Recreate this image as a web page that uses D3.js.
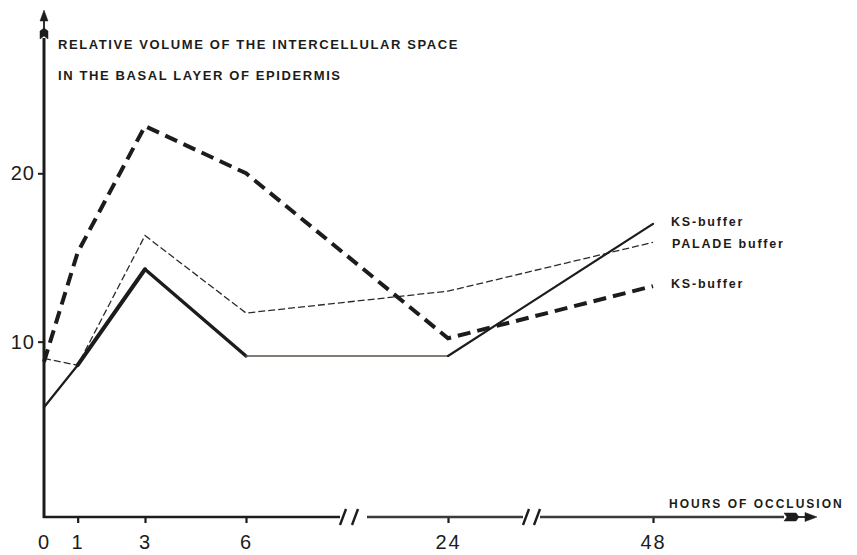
<!DOCTYPE html>
<html>
<head>
<meta charset="utf-8">
<script src="https://cdn.jsdelivr.net/npm/d3@7"></script>
<style>
  html, body { margin: 0; padding: 0; background: #fff; }
  svg { display: block; }
  text { font-family: "Liberation Sans", Arial, Helvetica, sans-serif; fill: #1c1c1c; }
</style>
</head>
<body>
<svg id="chart" width="857" height="555"></svg>
<script>
// ---- data ----
const hours = [0, 1, 3, 6, 24, 48];
const ksDashed = [8.8, 15.3, 22.8, 20.0, 10.2, 13.3];   // KS-buffer (thick dashed)
const ksSolid  = [6.1, 8.6, 14.3, 9.15, 9.15, 17.0];    // KS-buffer (solid)
const palade   = [9.0, 8.6, 16.3, 11.7, 13.0, 15.9];    // PALADE buffer (thin dashed)
const xTickValues = [0, 1, 3, 6, 24, 48];
const yTickValues = [10, 20];
const titleLines = ["RELATIVE VOLUME OF THE INTERCELLULAR SPACE", "IN THE BASAL LAYER OF EPIDERMIS"];
const xTitle = "HOURS OF OCCLUSION";
const seriesNames = ["KS-buffer", "PALADE buffer", "KS-buffer"];

// ---- layout ----
const svg = d3.select("#chart");
const axisY = 517;       // pixel row of the x axis
const axisX = 44;        // pixel column of the y axis
const ink = "#1c1c1c";

const x = d3.scaleLinear().domain([0, 6, 24, 48]).range([44, 246, 448, 653]);
const y = d3.scaleLinear().domain([0, 20]).range([510, 173.3]);

// ---- x axis (broken) ----
const xAxisG = svg.append("g").attr("transform", `translate(0,${axisY})`)
  .call(d3.axisBottom(x).tickValues(xTickValues).tickSizeInner(6).tickSizeOuter(0).tickPadding(12).tickFormat(d3.format("d")));
xAxisG.select(".domain").remove();
xAxisG.selectAll(".tick line").attr("stroke", ink).attr("stroke-width", 2.2)
  .filter(d => d === 0).remove();
xAxisG.selectAll(".tick text").attr("font-size", 20).attr("fill", ink)
  .attr("letter-spacing", 2).attr("font-family", "Liberation Sans, Arial, sans-serif");

// domain segments with breaks between 6..24 and 24..48
const segs = [[axisX - 1, 340, "#1c1c1c"], [367, 523, "#3a3a3a"], [540, 784, "#3a3a3a"]];
svg.append("g").selectAll("line").data(segs).join("line")
  .attr("x1", d => d[0]).attr("x2", d => d[1]).attr("y1", axisY).attr("y2", axisY)
  .attr("stroke", d => d[2]).attr("stroke-width", 2.6);

// break slashes
const slashes = [343, 355, 526, 537];
svg.append("g").selectAll("line").data(slashes).join("line")
  .attr("x1", d => d - 3).attr("x2", d => d + 3).attr("y1", axisY + 8).attr("y2", axisY - 8)
  .attr("stroke", ink).attr("stroke-width", 2.4);

// x axis arrow (feathered tail + head)
const ax = svg.append("g").attr("fill", ink).attr("stroke", ink);
ax.append("path").attr("d", `M784,${axisY-4} L796,${axisY-4} L799,${axisY} L796,${axisY+4} L784,${axisY+4} L787,${axisY} Z`).attr("stroke-width", 0.5);
ax.append("line").attr("x1", 798).attr("x2", 808).attr("y1", axisY).attr("y2", axisY).attr("stroke-width", 1.8);
ax.append("path").attr("d", `M805,${axisY-4.5} L817,${axisY} L805,${axisY+4.5} Z`).attr("stroke-width", 0.5);

// ---- y axis ----
const yAxisG = svg.append("g").attr("transform", `translate(${axisX},0)`)
  .call(d3.axisLeft(y).tickValues(yTickValues).tickSizeInner(6).tickSizeOuter(0).tickPadding(3));
yAxisG.select(".domain").remove();
yAxisG.selectAll(".tick line").attr("stroke", ink).attr("stroke-width", 2);
yAxisG.selectAll(".tick text").attr("font-size", 20).attr("fill", ink)
  .attr("letter-spacing", 1).attr("font-family", "Liberation Sans, Arial, sans-serif");

svg.append("line").attr("x1", axisX).attr("x2", axisX).attr("y1", axisY + 1).attr("y2", 38)
  .attr("stroke", ink).attr("stroke-width", 3);
const ay = svg.append("g").attr("fill", ink).attr("stroke", ink);
ay.append("path").attr("d", `M${axisX-4},39 L${axisX-4},31 L${axisX},28 L${axisX+4},31 L${axisX+4},39 L${axisX},36 Z`).attr("stroke-width", 0.5);
ay.append("line").attr("x1", axisX).attr("x2", axisX).attr("y1", 30).attr("y2", 18).attr("stroke-width", 1.8);
ay.append("path").attr("d", `M${axisX-4},21 L${axisX},10 L${axisX+4},21 Z`).attr("stroke-width", 0.5);

// ---- titles ----
svg.append("g").selectAll("text").data(titleLines).join("text")
  .attr("x", 58).attr("y", (d, i) => 49 + i * 31)
  .attr("font-size", 13).attr("font-weight", "bold").attr("letter-spacing", 1.6)
  .text(d => d);

svg.append("text").attr("x", 669).attr("y", 508)
  .attr("font-size", 12).attr("font-weight", "bold").attr("letter-spacing", 2)
  .text(xTitle);

// ---- series ----
const pts = vals => hours.map((h, i) => [x(h), y(vals[i])]);
const line = d3.line();

// thin dashed PALADE
svg.append("path").attr("d", line(pts(palade))).attr("fill", "none")
  .attr("stroke", "#2a2a2a").attr("stroke-width", 1.3).attr("stroke-dasharray", "7,3")
  .attr("stroke-linejoin", "miter");

// solid KS: drawn per segment with varying weight
const solidPts = pts(ksSolid);
const solidStyle = [[2.2, ink], [4, ink], [3.4, ink], [1.6, "#5b524a"], [2.2, ink]];
svg.append("g").selectAll("line").data(d3.pairs(solidPts)).join("line")
  .attr("x1", d => d[0][0]).attr("y1", d => d[0][1])
  .attr("x2", d => d[1][0]).attr("y2", d => d[1][1])
  .attr("stroke", (d, i) => solidStyle[i][1]).attr("stroke-width", (d, i) => solidStyle[i][0])
  .attr("stroke-linecap", "round");

// thick dashed KS
svg.append("path").attr("d", line(pts(ksDashed))).attr("fill", "none")
  .attr("stroke", ink).attr("stroke-width", 4).attr("stroke-dasharray", "13,7")
  .attr("stroke-linejoin", "miter");

// ---- series labels ----
const lastVals = [ksSolid[5], palade[5], ksDashed[5]];
const labelNudge = [2, 6, 2];
svg.append("g").selectAll("text").data(seriesNames).join("text")
  .attr("x", (d, i) => x(48) + 18 + (i === 1 ? 1 : 0))
  .attr("y", (d, i) => y(lastVals[i]) + labelNudge[i])
  .attr("font-size", 12.5).attr("font-weight", "bold").attr("letter-spacing", 1.8)
  .text(d => d);
</script>
</body>
</html>
